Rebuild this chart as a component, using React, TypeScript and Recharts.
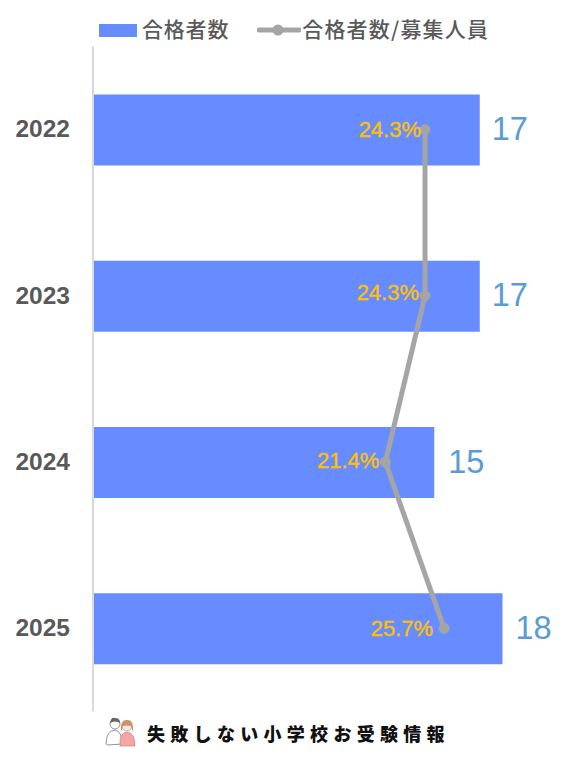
import { Bar, ComposedChart, LabelList, Line, XAxis, YAxis } from "recharts";

const years = ["2022", "2023", "2024", "2025"];
const passers = [17, 17, 15, 18];
const passRates = [24.3, 24.3, 21.4, 25.7];

const data = years.map((year, i) => ({
  year,
  passers: passers[i],
  rate: passRates[i],
}));

const CJK = '"Noto Sans CJK JP", "Noto Sans", sans-serif';
const LATIN = '"Liberation Sans", Arial, sans-serif';

// the labels are not evenly placed next to their marks
const rateGap = [4, 6, 6, 11];
const rateLift = [0, -3, -2, 0];
const countGap = [12, 12, 14, 13];

const RateLabel = (props: any) => {
  const { x, y, index, value } = props;
  return (
    <text
      x={x - rateGap[index]}
      y={y + rateLift[index]}
      textAnchor="end"
      dominantBaseline="central"
      fontFamily={LATIN}
      fontSize={22}
      fontWeight={400}
      fill="#ffc000"
      stroke="#ffc000"
      strokeWidth={0.4}
    >
      {value.toFixed(1)}%
    </text>
  );
};

const CountLabel = (props: any) => {
  const { x, y, width, height, index, value } = props;
  return (
    <text
      x={x + width + countGap[index]}
      y={y + height / 2 - 1}
      dominantBaseline="central"
      fontFamily={LATIN}
      fontSize={32.5}
      fill="#5b9bd5"
    >
      {value}
    </text>
  );
};

const ChartLegend = () => (
  <div
    style={{
      position: "absolute",
      left: 99,
      top: 16,
      height: 28,
      display: "flex",
      alignItems: "center",
      fontFamily: CJK,
      fontSize: 21,
      fontWeight: 500,
      letterSpacing: 0.8,
      color: "#595959",
      whiteSpace: "nowrap",
    }}
  >
    <span style={{ width: 38, height: 13, background: "#668cff", marginRight: 5 }} />
    <span style={{ marginRight: 28, position: "relative", top: -2 }}>合格者数</span>
    <svg width={44} height={14} style={{ marginRight: 1 }}>
      <line x1={2} y1={7} x2={42} y2={7} stroke="#a5a5a5" strokeWidth={5} strokeLinecap="round" />
      <circle cx={21} cy={7} r={5.5} fill="#a5a5a5" />
    </svg>
    <span style={{ position: "relative", top: -2, letterSpacing: 1.2 }}>合格者数/募集人員</span>
  </div>
);

const Couple = () => (
  <svg width={32} height={32} style={{ position: "absolute", left: 104, top: 716 }}>
    <path d="M2 28 Q2 15 11 14 Q18 15 18 28 L4 29 Z" fill="#fff" stroke="#777" strokeWidth={0.8} />
    <circle cx={11} cy={8} r={5} fill="#fff" stroke="#777" strokeWidth={0.8} />
    <path d="M6 7 Q7 1 11 2 Q16 2 16 7 Q11 4 6 7 Z" fill="#666" />
    <path d="M16 30 Q15 17 23 16 Q31 17 31 30 Z" fill="#f4a6a6" stroke="#b77" strokeWidth={0.6} />
    <circle cx={23} cy={10} r={5} fill="#fde8dc" stroke="#a86" strokeWidth={0.6} />
    <path d="M17 16 Q16 3 23 4 Q30 3 29 16 L27 10 Q23 9 19 10 Z" fill="#c9936b" />
  </svg>
);

const App = () => (
  <div
    style={{
      position: "absolute",
      left: 0,
      top: 0,
      width: 577,
      height: 760,
      background: "#fff",
    }}
  >
    <ComposedChart
      layout="vertical"
      width={577}
      height={760}
      data={data}
      margin={{ top: 46.5, right: 29, bottom: 48.5, left: 0 }}
    >
      <XAxis xAxisId="count" type="number" domain={[0, 20]} hide />
      <XAxis xAxisId="rate" type="number" domain={[0, 33.3]} hide />
      <YAxis
        type="category"
        dataKey="year"
        width={93}
        axisLine={{ stroke: "#d9d9d9", strokeWidth: 2 }}
        tickLine={false}
        tickMargin={17}
        dy={-1}
        tick={{ fontFamily: LATIN, fontSize: 24.5, fontWeight: 700, fill: "#595959" }}
      />
      <Bar
        xAxisId="count"
        dataKey="passers"
        fill="#668cff"
        barSize={71}
        isAnimationActive={false}
      >
        <LabelList dataKey="passers" content={CountLabel} />
      </Bar>
      <Line
        xAxisId="rate"
        dataKey="rate"
        stroke="#a5a5a5"
        strokeWidth={5}
        dot={{ r: 5, fill: "#a5a5a5", stroke: "#a5a5a5", strokeWidth: 1 }}
        isAnimationActive={false}
      >
        <LabelList dataKey="rate" content={RateLabel} />
      </Line>
    </ComposedChart>
    <ChartLegend />
    <Couple />
    <div
      style={{
        position: "absolute",
        left: 147,
        top: 720,
        fontFamily: CJK,
        fontSize: 18,
        fontWeight: 900,
        letterSpacing: 5.3,
        color: "#111",
        whiteSpace: "nowrap",
      }}
    >
      失敗しない小学校お受験情報
    </div>
  </div>
);

export default App;
